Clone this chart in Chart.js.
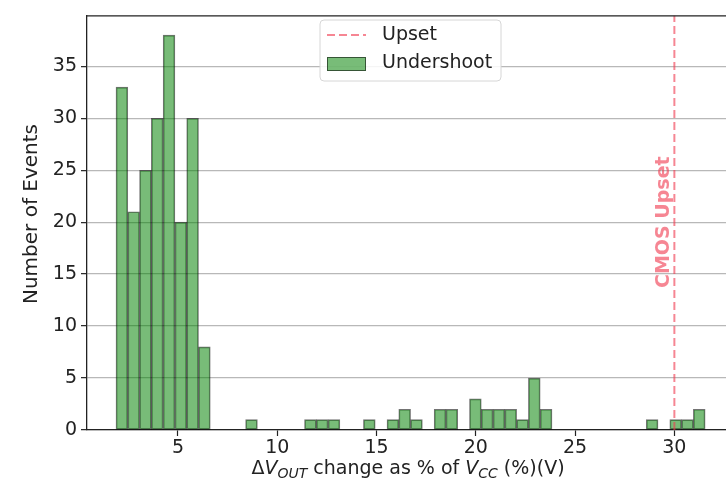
<!DOCTYPE html>
<html>
<head>
<meta charset="utf-8">
<script src="https://cdn.jsdelivr.net/npm/chart.js@4/dist/chart.umd.min.js"></script>
<style>
html,body{margin:0;padding:0;background:#fff;overflow:hidden;}
#wrap{width:726px;height:489px;position:relative;}
</style>
</head>
<body>
<div id="wrap"><canvas id="c" width="726" height="489"></canvas></div>
<script>
// Histogram bins (centres of non-empty bins) and event counts
const binCenters = [2.177, 2.770, 3.364, 3.957, 4.551, 5.144, 5.738, 6.331,
  8.704, 11.671, 12.265, 12.858, 14.638, 15.825, 16.418, 17.012,
  18.199, 18.792, 19.979, 20.572, 21.166, 21.759, 22.353, 22.946, 23.540,
  28.880, 30.067, 30.660, 31.253];
const eventCounts = [33, 21, 25, 30, 38, 20, 30, 8,
  1, 1, 1, 1, 1, 1, 2, 1,
  2, 2, 3, 2, 2, 2, 1, 5, 2,
  1, 1, 1, 2];
const xTicks = [5, 10, 15, 20, 25, 30];
const yTicks = [0, 5, 10, 15, 20, 25, 30, 35];
const upsetX = 30;
const xRange = [0.42, 32.6];
const yRange = [0, 39.9];
const upsetLabel = 'CMOS Upset';
const seriesNames = ['Upset', 'Undershoot'];
const yTitle = 'Number of Events';

const FONT = "'DejaVu Sans', sans-serif";
const TXT = '#222';
const RED = 'rgba(240,60,80,0.62)';
const BAR_FILL = 'rgba(0,128,0,0.53)';
const BAR_EDGE = 'rgba(0,0,0,0.55)';

const histData = binCenters.map((x, i) => ({x: x, y: eventCounts[i]}));
const lineData = [{x: upsetX, y: yRange[0]}, {x: upsetX, y: yRange[1]}];

const decor = {
  id: 'decor',
  afterDatasetsDraw(chart) {
    const ctx = chart.ctx;
    const xs = chart.scales.x, ys = chart.scales.y;
    const ca = chart.chartArea;
    ctx.save();
    // top spine
    ctx.strokeStyle = '#222';
    ctx.lineWidth = 1.3;
    ctx.beginPath();
    ctx.moveTo(ca.left, ca.top + 0.5);
    ctx.lineTo(ca.right, ca.top + 0.5);
    ctx.stroke();
    // CMOS Upset label
    ctx.save();
    ctx.translate(xs.getPixelForValue(29.5), ys.getPixelForValue(20));
    ctx.rotate(-Math.PI / 2);
    ctx.font = 'bold 19px ' + FONT;
    ctx.fillStyle = RED;
    ctx.textAlign = 'center';
    ctx.textBaseline = 'middle';
    ctx.fillText(upsetLabel, 0, 0);
    ctx.restore();
    // legend
    const lx = 320, ly = 20, lw = 181, lh = 61, r = 4;
    ctx.beginPath();
    ctx.moveTo(lx + r, ly);
    ctx.arcTo(lx + lw, ly, lx + lw, ly + lh, r);
    ctx.arcTo(lx + lw, ly + lh, lx, ly + lh, r);
    ctx.arcTo(lx, ly + lh, lx, ly, r);
    ctx.arcTo(lx, ly, lx + lw, ly, r);
    ctx.closePath();
    ctx.fillStyle = 'rgba(255,255,255,0.85)';
    ctx.fill();
    ctx.strokeStyle = '#d6d6d6';
    ctx.lineWidth = 1;
    ctx.stroke();
    ctx.strokeStyle = RED;
    ctx.lineWidth = 2;
    ctx.setLineDash([8, 4]);
    ctx.beginPath();
    ctx.moveTo(327, 35);
    ctx.lineTo(366, 35);
    ctx.stroke();
    ctx.setLineDash([]);
    ctx.fillStyle = BAR_FILL;
    ctx.fillRect(327, 57, 39, 14);
    ctx.strokeStyle = BAR_EDGE;
    ctx.lineWidth = 1;
    ctx.strokeRect(327.5, 57.5, 38, 13);
    ctx.fillStyle = TXT;
    ctx.font = '19px ' + FONT;
    ctx.textAlign = 'left';
    ctx.textBaseline = 'middle';
    ctx.fillText(seriesNames[0], 382, 35);
    ctx.fillText(seriesNames[1], 382, 63);
    // y title
    ctx.save();
    ctx.translate(32, 214);
    ctx.rotate(-Math.PI / 2);
    ctx.font = '20px ' + FONT;
    ctx.textAlign = 'center';
    ctx.fillText(yTitle, 0, 0);
    ctx.restore();
    // x title with subscripts
    const parts = [
      {t: '\u0394', f: '19px ' + FONT, dy: 0},
      {t: 'V', f: 'italic 19px ' + FONT, dy: 0},
      {t: 'OUT', f: 'italic 14px ' + FONT, dy: 4},
      {t: ' change as % of ', f: '19px ' + FONT, dy: 0},
      {t: 'V', f: 'italic 19px ' + FONT, dy: 0},
      {t: 'CC', f: 'italic 14px ' + FONT, dy: 4},
      {t: ' (%)(V)', f: '19px ' + FONT, dy: 0}
    ];
    let total = 0;
    parts.forEach(p => { ctx.font = p.f; p.w = ctx.measureText(p.t).width; total += p.w; });
    let px = 408 - total / 2;
    const base = 474;
    ctx.textBaseline = 'alphabetic';
    parts.forEach(p => { ctx.font = p.f; ctx.fillText(p.t, px, base + p.dy); px += p.w; });
    ctx.restore();
  }
};

new Chart(document.getElementById('c'), {
  type: 'bar',
  data: {
    datasets: [
      {
        type: 'line',
        label: seriesNames[0],
        data: lineData,
        borderColor: RED,
        borderWidth: 2,
        borderDash: [8, 4],
        pointRadius: 0,
        fill: false,
        order: 0
      },
      {
        label: seriesNames[1],
        data: histData,
        backgroundColor: BAR_FILL,
        borderColor: BAR_EDGE,
        borderWidth: 1,
        borderSkipped: false,
        barPercentage: 1,
        categoryPercentage: 1,
        order: 1
      }
    ]
  },
  options: {
    responsive: false,
    animation: false,
    devicePixelRatio: 1,
    layout: {padding: {top: 10, left: 0, right: 0, bottom: 0}},
    plugins: {legend: {display: false}, tooltip: {enabled: false}},
    scales: {
      x: {
        type: 'linear',
        min: xRange[0],
        max: xRange[1],
        offset: false,
        afterBuildTicks: s => { s.ticks = xTicks.map(v => ({value: v})); },
        afterFit: s => { s.height = 59; },
        grid: {display: true, drawOnChartArea: false, offset: false, tickLength: 6, tickColor: '#222', tickWidth: 1.2},
        border: {display: true, color: '#222', width: 1.3},
        ticks: {font: {family: FONT, size: 19}, color: TXT, padding: 1, maxRotation: 0, autoSkip: false}
      },
      y: {
        min: yRange[0],
        max: yRange[1],
        afterBuildTicks: s => { s.ticks = yTicks.map(v => ({value: v})); },
        afterFit: s => { s.width = 87; },
        grid: {color: '#b8b8b8', lineWidth: 1.3, tickLength: 6, tickColor: '#222', tickWidth: 1.2},
        border: {display: true, color: '#222', width: 1.3},
        ticks: {font: {family: FONT, size: 19}, color: TXT, padding: 4, autoSkip: false}
      }
    }
  },
  plugins: [decor]
});
</script>
</body>
</html>
